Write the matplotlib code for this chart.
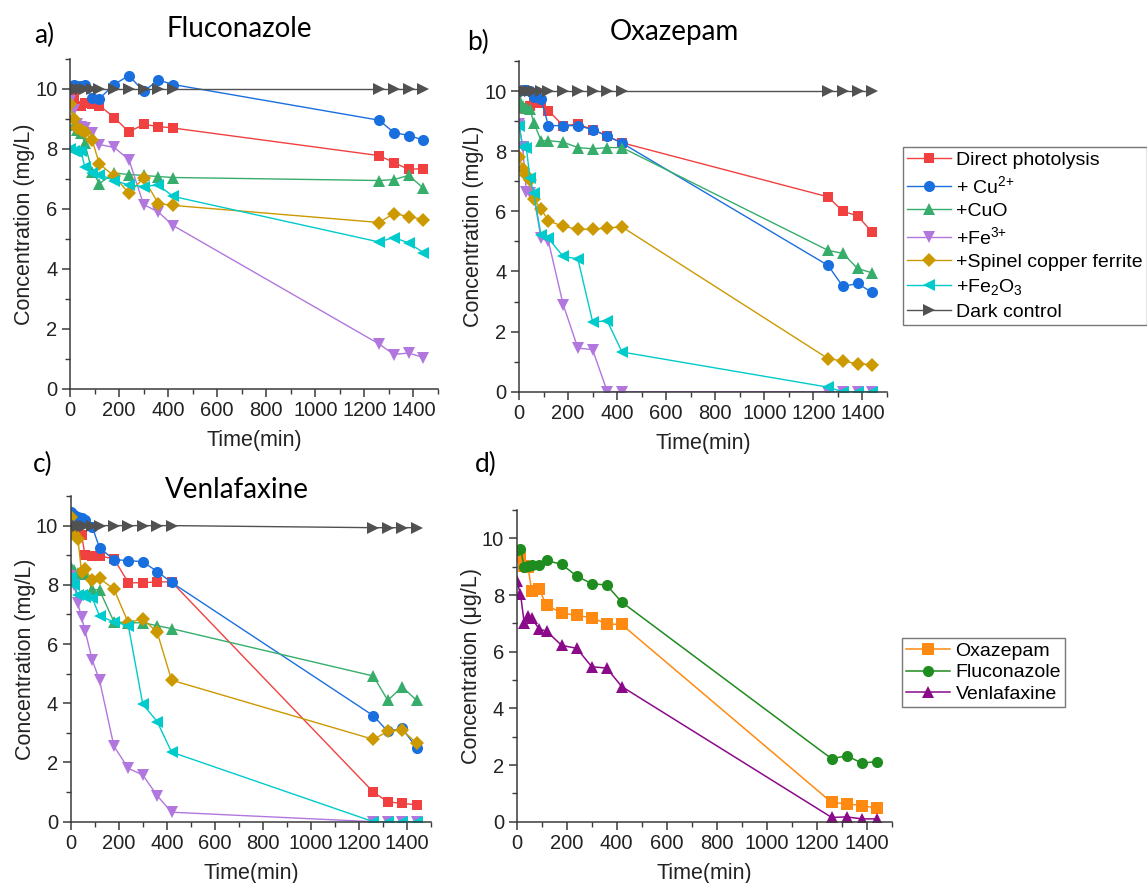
import matplotlib
matplotlib.use("Agg")
import matplotlib.pyplot as plt
from matplotlib.ticker import MultipleLocator

plt.rcParams["font.family"] = ["Liberation Sans", "DejaVu Sans"]
plt.rcParams["mathtext.fontset"] = "custom"
plt.rcParams["mathtext.rm"] = "Liberation Sans"
plt.rcParams["mathtext.it"] = "Liberation Sans:italic"
plt.rcParams["mathtext.bf"] = "Liberation Sans:bold"

# --- data -----------------------------------------------------------------
time = [0, 15, 30, 45, 60, 90, 120, 180, 240, 300, 360, 420, 1260, 1320, 1380, 1440]

series_labels = ["Direct photolysis", "+ Cu$^{2{+}}$", "+CuO", "+Fe$^{3{+}}$",
                 "+Spinel copper ferrite", "+Fe$_2$O$_3$", "Dark control"]

# a) Fluconazole (mg/L)
fluc_direct = [10.0, 9.7, 9.45, 9.45, 9.55, 9.5, 9.45, 9.05, 8.57, 8.82, 8.75, 8.7, 7.78, 7.55, 7.32, 7.35]
fluc_cu = [10.1, 10.15, 10.1, 10.1, 10.15, 9.7, 9.68, 10.15, 10.45, 9.92, 10.3, 10.15, 8.96, 8.55, 8.45, 8.3]
fluc_cuo = [9.7, 8.8, 8.65, 8.55, 8.2, 7.25, 6.85, 7.2, 7.15, 7.12, 7.08, 7.05, 6.95, 6.98, 7.12, 6.7]
fluc_fe3 = [9.6, 9.3, 8.85, 8.75, 8.7, 8.55, 8.15, 8.05, 7.65, 6.15, 5.9, 5.45, 1.5, 1.15, 1.2, 1.05]
fluc_spinel = [9.5, 9.0, 8.7, 8.62, 8.58, 8.3, 7.5, 7.1, 6.52, 7.03, 6.18, 6.12, 5.55, 5.85, 5.75, 5.65]
fluc_fe2o3 = [8.0, 7.95, 7.9, 7.95, 7.4, 7.2, 7.15, 6.95, 6.8, 6.75, 6.8, 6.42, 4.9, 5.05, 4.87, 4.55]
fluc_dark = [10.0] * 16

# b) Oxazepam (mg/L)
oxa_direct = [10.0, 9.45, 9.4, 9.5, 9.6, 9.6, 9.35, 8.85, 8.9, 8.72, 8.5, 8.28, 6.48, 6.0, 5.85, 5.3]
oxa_cu = [10.0, 10.05, 10.05, 10.0, 9.8, 9.72, 8.85, 8.85, 8.85, 8.72, 8.5, 8.27, 4.2, 3.5, 3.6, 3.3]
oxa_cuo = [9.7, 9.5, 9.45, 9.4, 8.95, 8.35, 8.35, 8.3, 8.12, 8.08, 8.12, 8.12, 4.7, 4.6, 4.1, 3.95]
oxa_fe3 = [8.9, 8.15, 6.65, 6.6, 6.5, 5.1, 5.0, 2.9, 1.45, 1.4, 0, 0, 0, 0, 0, 0]
oxa_spinel = [7.8, 7.42, 7.22, 7.05, 6.4, 6.08, 5.68, 5.5, 5.4, 5.4, 5.45, 5.48, 1.1, 1.02, 0.93, 0.9]
oxa_fe2o3 = [8.85, 8.15, 8.1, 7.1, 6.6, 5.2, 5.1, 4.5, 4.42, 2.33, 2.35, 1.32, 0.15, 0, 0, 0]
oxa_dark = [10.0] * 16

# c) Venlafaxine (mg/L)
ven_direct = [10.0, 9.72, 9.7, 9.68, 9.0, 8.97, 8.97, 8.88, 8.07, 8.07, 8.1, 8.1, 1.0, 0.67, 0.62, 0.57]
ven_cu = [10.45, 10.35, 10.3, 10.25, 10.2, 9.95, 9.25, 8.85, 8.82, 8.78, 8.45, 8.08, 3.58, 3.05, 3.15, 2.5]
ven_cuo = [8.6, 8.5, 8.4, 8.35, 8.35, 7.85, 7.82, 6.75, 6.72, 6.72, 6.62, 6.52, 4.92, 4.1, 4.55, 4.1]
ven_fe3 = [8.3, 8.0, 7.38, 6.9, 6.45, 5.45, 4.78, 2.55, 1.8, 1.58, 0.88, 0.32, 0, 0, 0, 0]
ven_spinel = [10.3, 9.7, 9.55, 8.45, 8.52, 8.15, 8.22, 7.85, 6.72, 6.85, 6.4, 4.78, 2.78, 3.05, 3.1, 2.65]
ven_fe2o3 = [8.25, 8.0, 7.65, 7.65, 7.6, 7.55, 6.95, 6.75, 6.62, 3.97, 3.38, 2.35, 0, 0, 0, 0]
ven_dark = [10.0] * 12 + [9.93] * 4

# d) mixture (ug/L)
mix_labels = ["Oxazepam", "Fluconazole", "Venlafaxine"]
mix_oxa = [9.35, 9.4, 9.02, 9.0, 8.15, 8.2, 7.63, 7.37, 7.28, 7.2, 6.98, 6.96, 0.68, 0.63, 0.57, 0.48]
mix_fluc = [9.58, 9.62, 9.0, 9.03, 9.07, 9.07, 9.22, 9.08, 8.67, 8.4, 8.35, 7.75, 2.22, 2.33, 2.07, 2.12]
mix_ven = [8.5, 8.05, 7.02, 7.25, 7.18, 6.8, 6.72, 6.22, 6.12, 5.47, 5.42, 4.77, 0.15, 0.17, 0.1, 0.1]

# --- styles ---------------------------------------------------------------
COLORS = ["#F14040", "#1A6FDF", "#37AD6B", "#B177DE", "#CC9900", "#00CBCC", "#515151"]
MARKERS = ["s", "o", "^", "v", "D", "<", ">"]
MSIZES = [7.5, 8, 8, 8, 7.5, 8, 8]
MIX_COLORS = ["#FF8A12", "#1E8C1E", "#8A0A8A"]
MIX_MARKERS = ["s", "o", "^"]
AXC = "#3a3a3a"
TITLE_FONT = ["Lato", "DejaVu Sans"]


def style_axis(ax, ylabel):
    ax.set_xlim(0, 1500)
    ax.set_ylim(0, 11)
    ax.xaxis.set_major_locator(MultipleLocator(200))
    ax.xaxis.set_minor_locator(MultipleLocator(100))
    ax.yaxis.set_major_locator(MultipleLocator(2))
    ax.yaxis.set_minor_locator(MultipleLocator(1))
    ax.set_xticks(range(0, 1401, 200))
    for s in ["top", "right"]:
        ax.spines[s].set_visible(False)
    for s in ["left", "bottom"]:
        ax.spines[s].set_color(AXC)
        ax.spines[s].set_linewidth(1.1)
    ax.tick_params(which="major", length=6, width=1.1, color=AXC, labelsize=14.5,
                   labelcolor="#222222", pad=3)
    ax.tick_params(which="minor", length=3.5, width=1.0, color=AXC)
    ax.set_xlabel("Time(min)", fontsize=15.5, color="#222222", labelpad=7)
    ax.set_ylabel(ylabel, fontsize=15.5, color="#222222", labelpad=0)


fig = plt.figure(figsize=(11.47, 8.83), dpi=100)
W, H = 1147, 883


def px_axes(left, top, right, bottom):
    return fig.add_axes([left / W, 1 - bottom / H, (right - left) / W, (bottom - top) / H])


ax_a = px_axes(70, 59, 438, 389)
ax_b = px_axes(519, 61, 887, 391.7)
ax_c = px_axes(70.7, 496, 431, 821.7)
ax_d = px_axes(516.7, 510, 891.7, 821.7)

panels = [
    (ax_a, [fluc_direct, fluc_cu, fluc_cuo, fluc_fe3, fluc_spinel, fluc_fe2o3, fluc_dark]),
    (ax_b, [oxa_direct, oxa_cu, oxa_cuo, oxa_fe3, oxa_spinel, oxa_fe2o3, oxa_dark]),
    (ax_c, [ven_direct, ven_cu, ven_cuo, ven_fe3, ven_spinel, ven_fe2o3, ven_dark]),
]

for ax, data in panels:
    for vals, lab, c, m, ms in zip(data, series_labels, COLORS, MARKERS, MSIZES):
        ax.plot(time, vals, color=c, marker=m, markersize=ms, markeredgewidth=0,
                linewidth=1.0, label=lab)
    style_axis(ax, "Concentration (mg/L)")

for vals, lab, c, m in zip([mix_oxa, mix_fluc, mix_ven], mix_labels, MIX_COLORS, MIX_MARKERS):
    ax_d.plot(time, vals, color=c, marker=m, markersize=8, markeredgewidth=0,
              linewidth=1.1, label=lab)
style_axis(ax_d, "Concentration (\u03bcg/L)")

# titles and panel letters
fig.text(239 / W, 1 - 29 / H, "Fluconazole", fontsize=20, family=TITLE_FONT, ha="center", va="center")
fig.text(674 / W, 1 - 32 / H, "Oxazepam", fontsize=20, family=TITLE_FONT, ha="center", va="center")
fig.text(237 / W, 1 - 490 / H, "Venlafaxine", fontsize=20, family=TITLE_FONT, ha="center", va="center")
for x, y, t in [(44, 35, "a)"), (478, 42, "b)"), (43, 464, "c)"), (486, 464, "d)")]:
    fig.text(x / W, 1 - y / H, t, fontsize=19, family=TITLE_FONT, ha="center", va="center")

leg_kw = dict(loc="upper left", fontsize=14, frameon=True, fancybox=False,
              edgecolor="#555555", handlelength=2.25, handletextpad=0.28,
              labelspacing=0.3, borderpad=0.22, borderaxespad=0)
h, l = ax_a.get_legend_handles_labels()
lg1 = fig.legend(h, l, bbox_to_anchor=(903 / W, 1 - 147 / H), **leg_kw)
lg1.get_frame().set_linewidth(1.0)
h, l = ax_d.get_legend_handles_labels()
lg2 = fig.legend(h, l, bbox_to_anchor=(902 / W, 1 - 638 / H), **dict(leg_kw, labelspacing=0.2))
lg2.get_frame().set_linewidth(1.0)

fig.savefig("out.png", dpi=100, facecolor="white")
